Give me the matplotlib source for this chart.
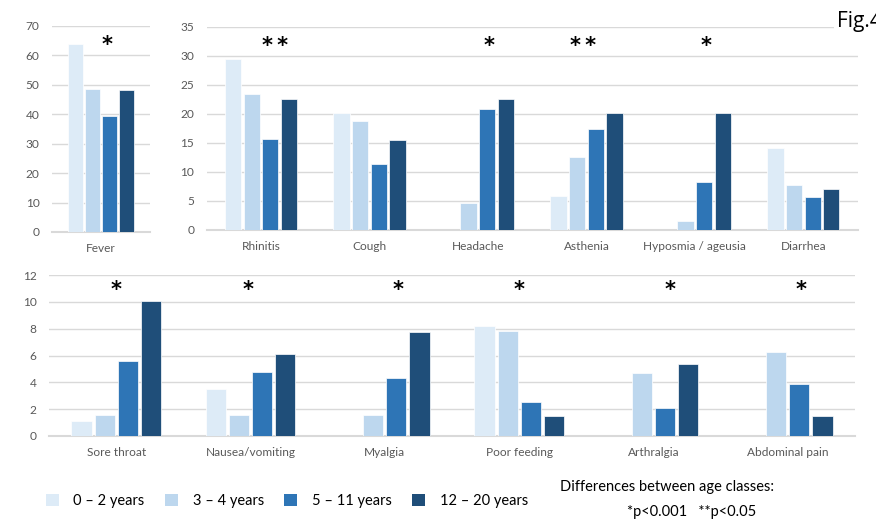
import numpy as np
import matplotlib
matplotlib.use("Agg")
import matplotlib.pyplot as plt
from matplotlib.patches import Patch

# data (% of children with each symptom, per age class)
age_classes = ["0 \u2013 2 years", "3 \u2013 4 years", "5 \u2013 11 years", "12 \u2013 20 years"]
colors = ["#DDEBF7", "#BDD7EE", "#2E75B6", "#1F4E79"]

fever_labels = ["Fever"]
fever_vals = [[64.0], [48.5], [39.3], [48.2]]
fever_stars = ["*"]

top_labels = ["Rhinitis", "Cough", "Headache", "Asthenia", "Hyposmia / ageusia", "Diarrhea"]
top_vals = [
    [29.5, 20.1, 0.0, 5.9, 0.0, 14.2],
    [23.5, 18.8, 4.7, 12.6, 1.6, 7.8],
    [15.7, 11.3, 20.8, 17.4, 8.2, 5.7],
    [22.5, 15.5, 22.5, 20.1, 20.1, 7.0],
]
top_stars = ["**", "", "*", "**", "*", ""]

bot_labels = ["Sore throat", "Nausea/vomiting", "Myalgia", "Poor feeding", "Arthralgia", "Abdominal pain"]
bot_vals = [
    [1.15, 3.5, 0.0, 8.2, 0.0, 0.0],
    [1.55, 1.55, 1.55, 7.8, 4.7, 6.25],
    [5.6, 4.75, 4.3, 2.55, 2.1, 3.85],
    [10.1, 6.15, 7.75, 1.5, 5.4, 1.5],
]
bot_stars = ["*", "*", "*", "*", "*", "*"]

plt.rcParams["font.family"] = ["Lato", "DejaVu Sans"]
grey = "#595959"
grid = "#D9D9D9"

fig = plt.figure(figsize=(8.76, 5.19), dpi=100)


def panel(rect, labels, vals, ymax, ystep, stars, star_dx, star_y):
    ax = fig.add_axes(rect)
    x = np.arange(len(labels))
    for k in range(4):
        ax.bar(x + (k - 1.5) * 0.172, vals[k], width=0.15, color=colors[k],
               edgecolor="white", linewidth=0.5, zorder=3, label=age_classes[k])
    ax.set_xlim(-0.5, len(labels) - 0.5)
    ax.set_ylim(0, ymax)
    ax.set_yticks(np.arange(0, ymax + 0.1, ystep))
    ax.set_xticks(x)
    ax.set_xticklabels(labels)
    ax.yaxis.grid(True, color=grid, linewidth=1.0, zorder=0)
    ax.set_axisbelow(True)
    for s in ["top", "right", "left"]:
        ax.spines[s].set_visible(False)
    ax.spines["bottom"].set_color(grid)
    ax.spines["bottom"].set_linewidth(1.5)
    ax.tick_params(axis="both", length=0, labelsize=8.6, colors=grey)
    ax.tick_params(axis="y", pad=9)
    ax.tick_params(axis="x", pad=8)
    for i, s in enumerate(stars):
        if s:
            ax.text(i + star_dx[i], star_y, s.replace("**", "*\u2009*"), ha="center", va="center",
                    fontsize=15, family="DejaVu Sans", fontweight="bold", color="black")
    return ax


ax1 = panel([0.0594, 0.553, 0.112, 0.397], fever_labels, fever_vals, 70, 10,
            fever_stars, [0.06], 63.5)
ax2 = panel([0.236, 0.557, 0.743, 0.391], top_labels, top_vals, 35, 5,
            top_stars, [0.13, 0, 0.10, -0.03, 0.10, 0], 31.7)
ax3 = panel([0.056, 0.160, 0.920, 0.310], bot_labels, bot_vals, 12, 2,
            bot_stars, [0.0, -0.02, 0.10, 0.0, 0.12, 0.10], 10.9)

# figure tag, partly cut by the right edge as in the source
fig.text(0.955, 0.958, "Fig.4", fontsize=15, color="black", ha="left", va="center",
         family=["Open Sans", "DejaVu Sans"],
         bbox=dict(facecolor="white", edgecolor="none", pad=2))

handles = [Patch(facecolor=c, edgecolor="none") for c in colors]
fig.legend(handles, age_classes, loc="center left", bbox_to_anchor=(0.037, 0.035),
           ncol=4, frameon=False, fontsize=10.5, handlelength=0.9, handleheight=0.9,
           handletextpad=1.0, columnspacing=1.4)

fig.text(0.639, 0.062, "Differences between age classes:", fontsize=10.5, ha="left", va="center")
fig.text(0.716, 0.013, "*p<0.001   **p<0.05", fontsize=10.5, ha="left", va="center")

fig.savefig("out.png", dpi=100)
